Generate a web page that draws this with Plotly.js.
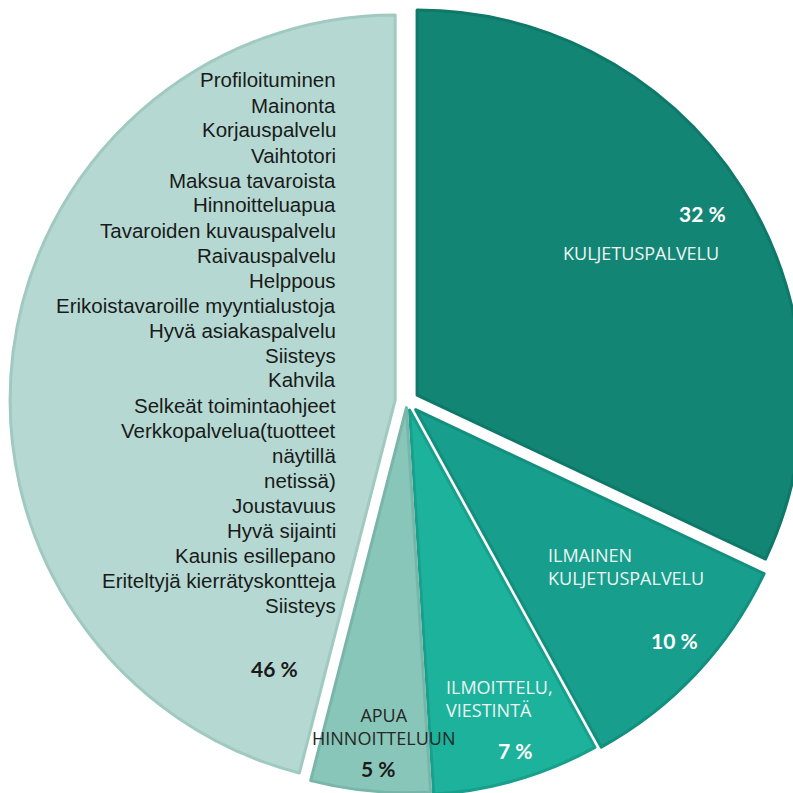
<!DOCTYPE html>
<html>
<head>
<meta charset="utf-8">
<script src="https://cdn.plot.ly/plotly-3.0.1.min.js"></script>
<style>
  html, body { margin: 0; padding: 0; overflow: hidden; background: #fff; }
</style>
</head>
<body>
<div id="pie-plot"></div>
<script>
// slices, clockwise from 12 o'clock
var sliceNames = ["KULJETUSPALVELU", "ILMAINEN<br>KULJETUSPALVELU", "ILMOITTELU,<br>VIESTINTÄ", "APUA<br>HINNOITTELUUN", "Muut"];
var sliceValues = [32, 10, 7, 5, 46];

// everything listed inside the big slice
var otherItems = [
  "Profiloituminen", "Mainonta", "Korjauspalvelu", "Vaihtotori", "Maksua tavaroista",
  "Hinnoitteluapua", "Tavaroiden kuvauspalvelu", "Raivauspalvelu", "Helppous",
  "Erikoistavaroille myyntialustoja", "Hyvä asiakaspalvelu", "Siisteys", "Kahvila",
  "Selkeät toimintaohjeet", "Verkkopalvelua(tuotteet", "näytillä", "netissä)",
  "Joustavuus", "Hyvä sijainti", "Kaunis esillepano", "Eriteltyjä kierrätyskontteja", "Siisteys"
];

var fillColors = ["#128574", "#179e8c", "#1cb29c", "#88c6b9", "#b5d9d2"];
var edgeColors = ["#0e7869", "#138f7e", "#17a08c", "#79b6a9", "#a0c9c0"];
var pulls = [0.031, 0.031, 0.023, 0.016, 0.031];

var W = 830, H = 830;
function px(x) { return x / W; }
function py(y) { return 1 - y / H; }

var trace = {
  type: "pie",
  values: sliceValues,
  labels: sliceNames,
  sort: false,
  direction: "clockwise",
  rotation: 0,
  pull: pulls,
  textinfo: "none",
  hoverinfo: "none",
  marker: { colors: fillColors, line: { color: edgeColors, width: 3 } },
  domain: { x: [px(10), px(804)], y: [py(798.5), py(4.5)] }
};

var pctFont = { family: "Lato, 'Open Sans', sans-serif", size: 21, weight: 700 };
var capFont = { family: "'Open Sans', sans-serif", size: 18 };
var annotations = [];
function addText(txt, x, y, xanchor, font, color) {
  annotations.push({
    text: txt, x: px(x), y: py(y), xref: "paper", yref: "paper",
    xanchor: xanchor, yanchor: "middle", showarrow: false, align: xanchor,
    font: Object.assign({ color: color }, font)
  });
}

// label positions for slices (pixels in the page)
var pctPos = [[702, 214], [674, 640], [515, 750], [378, 768], [274, 668]];
var pctColor = ["#ffffff", "#ffffff", "#ffffff", "#1a1a1a", "#1a1a1a"];
sliceValues.forEach(function (v, i) {
  addText(v + " %", pctPos[i][0], pctPos[i][1], "center", pctFont, pctColor[i]);
});
addText(sliceNames[0], 641, 253, "center", capFont, "#eef6f4");
addText(sliceNames[1], 546, 566, "left", capFont, "#eef6f4");
addText(sliceNames[2], 444, 698, "left", capFont, "#eef6f4");
addText(sliceNames[3], 383, 726, "center", capFont, "#262626");

otherItems.forEach(function (item, i) {
  addText(item, 338, 80 + 25 * i, "right",
    { family: "'Liberation Sans', Arial, sans-serif", size: 20.5 }, "#1a1a1a");
});

var layout = {
  width: W,
  height: H,
  margin: { l: 0, r: 0, t: 0, b: 0 },
  showlegend: false,
  paper_bgcolor: "#ffffff",
  annotations: annotations
};

Plotly.newPlot("pie-plot", [trace], layout, { staticPlot: true });
</script>
</body>
</html>
